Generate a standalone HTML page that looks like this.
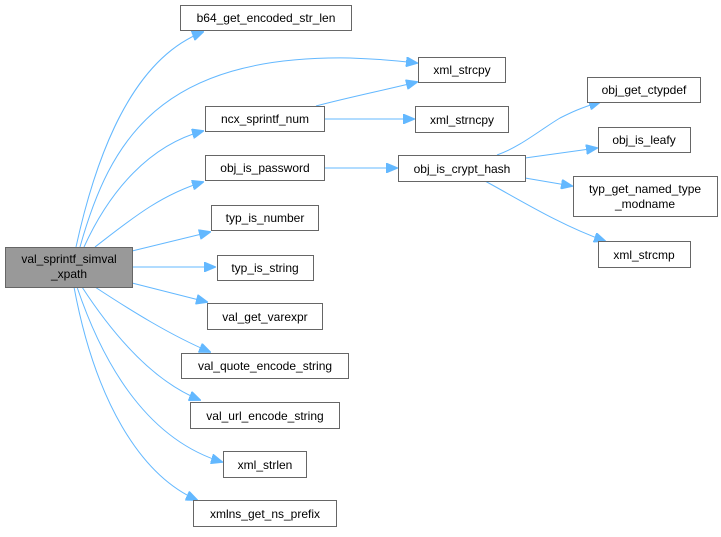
<!DOCTYPE html>
<html><head><meta charset="utf-8"><style>
body{margin:0;background:#fff;width:721px;height:532px;overflow:hidden}
svg text{font-family:"Liberation Sans",Arial,sans-serif;font-size:12px;fill:#000}
</style></head><body>
<svg width="721" height="532" viewBox="0 0 721 532" xmlns="http://www.w3.org/2000/svg">
<defs><marker id="a" markerWidth="12" markerHeight="10" refX="11" refY="5" orient="auto" markerUnits="userSpaceOnUse"><path d="M0,0 L12,5 L0,10 Z" fill="#63b8ff" stroke="#63b8ff"/></marker></defs>
<g fill="none" stroke="#63b8ff" stroke-width="1" marker-end="url(#a)">
<path d="M76,247 C95,160 130,60 203,32"/>
<path d="M80,247 C110,140 160,55 350,58 C380,59 400,61 417,63"/>
<path d="M84,247 C110,190 150,145 203,131"/>
<path d="M95,247 C130,220 160,195 203,182"/>
<path d="M132,251 L210,232"/>
<path d="M132,267 L215,267"/>
<path d="M132,283 L207,302"/>
<path d="M95,287 C130,310 170,335 210,352"/>
<path d="M82,287 C110,330 150,380 200,400"/>
<path d="M77,287 C105,370 150,440 222,462"/>
<path d="M74,287 C95,400 140,475 197,500"/>
<path d="M316,106 C350,97 385,90 417,82"/>
<path d="M324,119 L414,119"/>
<path d="M324,168 L397,168"/>
<path d="M497,155 C520,147 540,130 560,118 C570,113 580,108 600,102"/>
<path d="M525,158 L597,148"/>
<path d="M525,178 L572,186"/>
<path d="M485,181 C520,200 560,225 605,241"/>
</g>
<g stroke="#666" stroke-width="1" fill="#fff">
<rect x="5.5" y="247.5" width="127" height="40" fill="#999"/>
<rect x="180.5" y="5.5" width="171" height="25"/>
<rect x="205.5" y="106.5" width="119" height="25"/>
<rect x="205.5" y="155.5" width="119" height="25"/>
<rect x="211.5" y="205.5" width="107" height="25"/>
<rect x="217.5" y="255.5" width="96" height="25"/>
<rect x="207.5" y="303.5" width="115" height="26"/>
<rect x="181.5" y="353.5" width="167" height="25"/>
<rect x="190.5" y="402.5" width="149" height="26"/>
<rect x="223.5" y="451.5" width="83" height="26"/>
<rect x="193.5" y="500.5" width="143" height="26"/>
<rect x="418.5" y="57.5" width="87" height="25"/>
<rect x="415.5" y="106.5" width="93" height="26"/>
<rect x="398.5" y="155.5" width="127" height="26"/>
<rect x="587.5" y="77.5" width="113" height="25"/>
<rect x="598.5" y="127.5" width="92" height="25"/>
<rect x="573.5" y="176.5" width="144" height="40"/>
<rect x="598.5" y="241.5" width="92" height="26"/>
</g>
<g text-anchor="middle">
<text x="69" y="263">val_sprintf_simval</text><text x="69" y="278">_xpath</text>
<text x="266" y="22">b64_get_encoded_str_len</text>
<text x="265" y="123">ncx_sprintf_num</text>
<text x="265" y="172">obj_is_password</text>
<text x="265" y="222">typ_is_number</text>
<text x="265" y="272">typ_is_string</text>
<text x="265" y="321">val_get_varexpr</text>
<text x="265" y="370">val_quote_encode_string</text>
<text x="265" y="420">val_url_encode_string</text>
<text x="265" y="469">xml_strlen</text>
<text x="265" y="518">xmlns_get_ns_prefix</text>
<text x="462" y="74">xml_strcpy</text>
<text x="462" y="124">xml_strncpy</text>
<text x="462" y="173">obj_is_crypt_hash</text>
<text x="644" y="94">obj_get_ctypdef</text>
<text x="644" y="144">obj_is_leafy</text>
<text x="645" y="193">typ_get_named_type</text><text x="645" y="208">_modname</text>
<text x="644" y="259">xml_strcmp</text>
</g>
</svg>
</body></html>
